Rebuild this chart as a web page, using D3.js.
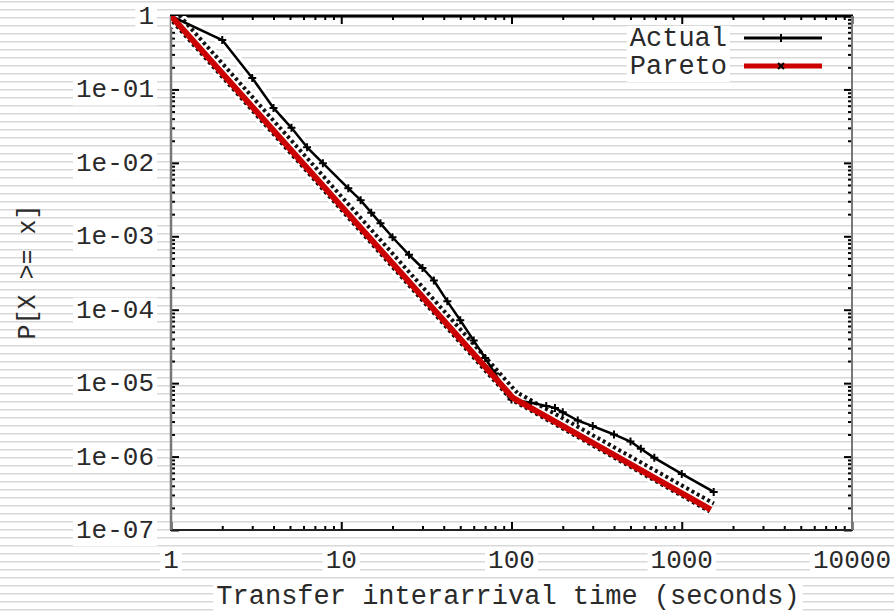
<!DOCTYPE html>
<html>
<head>
<meta charset="utf-8" />
<title>Transfer interarrival time CCDF</title>
<script src="https://d3js.org/d3.v7.min.js"></script>
<style>
  body { margin: 0; background: #fff; }
  text { font-family: "Liberation Mono", "DejaVu Sans Mono", monospace; fill: #2a2a2a; }
</style>
</head>
<body>
<script>
// data
var actualX = [1, 2, 3, 4, 5.1, 6.3, 7.8, 11, 13, 15, 17, 20, 25, 30, 35, 42, 50, 60, 70, 80, 95, 100, 130, 160, 180, 200, 245, 300, 400, 500, 575, 690, 1000, 1540];
var actualY = [1, 0.47, 0.143, 0.056, 0.03, 0.0163, 0.0099, 0.0045, 0.0031, 0.0021, 0.0015, 0.00097, 0.00056, 0.00037, 0.00025, 0.00013, 7.2e-5, 3.8e-5, 2.2e-5, 1.35e-5, 7.2e-6, 6e-6, 5.4e-6, 4.9e-6, 4.6e-6, 4.0e-6, 3.1e-6, 2.6e-6, 2.0e-6, 1.6e-6, 1.28e-6, 9.6e-7, 5.8e-7, 3.3e-7];
var paretoX = [1, 102, 1480];
var paretoY = [1, 6.3e-6, 1.9e-7];
var xTicks = [1, 10, 100, 1000, 10000];
var xTickLabels = ['1', '10', '100', '1000', '10000'];
var yTicks = [1, 1e-1, 1e-2, 1e-3, 1e-4, 1e-5, 1e-6, 1e-7];
var yTickLabels = ['1', '1e-01', '1e-02', '1e-03', '1e-04', '1e-05', '1e-06', '1e-07'];
var seriesNames = ['Actual', 'Pareto'];

var width = 894, height = 611;
var svg = d3.select('body').append('svg')
    .attr('width', width)
    .attr('height', height);

// scanline background
var defs = svg.append('defs');
var pat = defs.append('pattern')
    .attr('id', 'stripes')
    .attr('patternUnits', 'userSpaceOnUse')
    .attr('width', 8).attr('height', 8)
    .attr('y', 1);
pat.append('rect').attr('width', 8).attr('height', 8).attr('fill', '#fff');
pat.append('rect').attr('y', 0).attr('width', 8).attr('height', 1).attr('fill', '#d9d9d9');
pat.append('rect').attr('y', 1).attr('width', 8).attr('height', 1).attr('fill', '#ebebeb');
svg.append('rect').attr('width', width).attr('height', height).attr('fill', 'url(#stripes)');

var x = d3.scaleLog().domain([1, 10000]).range([171, 852]);
var y = d3.scaleLog().domain([1e-7, 1]).range([530, 16]);

function minorOf(lo, hi) {
    var out = [];
    for (var d = lo; d < hi; d *= 10)
        for (var k = 2; k <= 9; k++) out.push(d * k);
    return out;
}
var xMinor = minorOf(1, 10000);
var yMinor = minorOf(1e-7, 1);

function strip(g) { g.select('.domain').remove(); g.selectAll('line').attr('stroke', '#000').attr('stroke-width', 2); }

// ticks, all pointing inward, mirrored on all four sides
svg.append('g').attr('transform', 'translate(0,530)')
    .call(d3.axisBottom(x).tickValues(xMinor).tickSize(-4).tickFormat('')).call(strip);
svg.append('g').attr('transform', 'translate(0,530)')
    .call(d3.axisBottom(x).tickValues(xTicks).tickSize(-8).tickFormat('')).call(strip);
svg.append('g').attr('transform', 'translate(0,16)')
    .call(d3.axisTop(x).tickValues(xMinor).tickSize(-4).tickFormat('')).call(strip);
svg.append('g').attr('transform', 'translate(0,16)')
    .call(d3.axisTop(x).tickValues(xTicks).tickSize(-8).tickFormat('')).call(strip);
svg.append('g').attr('transform', 'translate(171,0)')
    .call(d3.axisLeft(y).tickValues(yMinor).tickSize(-4).tickFormat('')).call(strip);
svg.append('g').attr('transform', 'translate(171,0)')
    .call(d3.axisLeft(y).tickValues(yTicks).tickSize(-8).tickFormat('')).call(strip);
svg.append('g').attr('transform', 'translate(852,0)')
    .call(d3.axisRight(y).tickValues(yMinor).tickSize(-4).tickFormat('')).call(strip);
svg.append('g').attr('transform', 'translate(852,0)')
    .call(d3.axisRight(y).tickValues(yTicks).tickSize(-8).tickFormat('')).call(strip);

// frame
svg.append('line').attr('x1', 170).attr('x2', 853).attr('y1', 16).attr('y2', 16).attr('stroke', '#000').attr('stroke-width', 3);
svg.append('line').attr('x1', 170).attr('x2', 853).attr('y1', 530).attr('y2', 530).attr('stroke', '#222').attr('stroke-width', 2);
svg.append('line').attr('x1', 171).attr('x2', 171).attr('y1', 16).attr('y2', 530).attr('stroke', '#777').attr('stroke-width', 2.5);
svg.append('line').attr('x1', 852).attr('x2', 852).attr('y1', 16).attr('y2', 530).attr('stroke', '#777').attr('stroke-width', 2);

function label(g, tx, ty, str, anchor, size) {
    var t = g.append('text').attr('x', tx).attr('y', ty)
        .attr('text-anchor', anchor).attr('font-size', size || 26).text(str);
    var b = t.node().getBBox();
    g.insert('rect', 'text').attr('x', b.x - 3).attr('y', b.y + 2).attr('width', b.width + 6).attr('height', b.height - 2).attr('fill', '#fff');
    return t;
}

// tick labels
yTicks.forEach(function (v, i) {
    label(svg.append('g'), 154, y(v) + 8, yTickLabels[i], 'end');
});
xTicks.forEach(function (v, i) {
    label(svg.append('g'), x(v), 568, xTickLabels[i], 'middle');
});

// axis titles
label(svg.append('g'), 508, 604, 'Transfer interarrival time (seconds)', 'middle', 27);
var yl = svg.append('g').attr('transform', 'translate(35,272) rotate(-90)');
label(yl, 0, 0, 'P[X >= x]', 'middle', 25);
yl.select('rect').remove();

var clip = defs.append('clipPath').attr('id', 'plot');
clip.append('rect').attr('x', 171).attr('y', 16).attr('width', 681).attr('height', 514);

var line = d3.line().x(function (d) { return x(d[0]); }).y(function (d) { return y(d[1]); });
var actual = actualX.map(function (v, i) { return [v, actualY[i]]; });
var pareto = paretoX.map(function (v, i) { return [v, paretoY[i]]; });

var plot = svg.append('g').attr('clip-path', 'url(#plot)');

// white halos
plot.append('path').datum(actual).attr('d', line).attr('fill', 'none').attr('stroke', '#fff').attr('stroke-width', 9);
plot.append('path').datum(pareto).attr('d', line).attr('fill', 'none').attr('stroke', '#fff').attr('stroke-width', 18)
    .attr('transform', 'translate(1,-2)');

// dotted point band of the fit
plot.append('path').datum(pareto).attr('d', line).attr('fill', 'none')
    .attr('stroke', '#111').attr('stroke-width', 13).attr('stroke-dasharray', '3,3')
    .attr('transform', 'translate(1,-2)');
plot.append('path').datum(pareto).attr('d', line).attr('fill', 'none')
    .attr('stroke', '#fff').attr('stroke-width', 5)
    .attr('transform', 'translate(1,-2)');

// actual
plot.append('path').datum(actual).attr('d', line).attr('fill', 'none').attr('stroke', '#000').attr('stroke-width', 2.5)
    .attr('stroke-linejoin', 'round');
plot.selectAll('.pt').data(actual).enter().append('path')
    .attr('class', 'pt')
    .attr('transform', function (d) { return 'translate(' + x(d[0]) + ',' + y(d[1]) + ')'; })
    .attr('d', 'M-4,0H4M0,-4V4').attr('stroke', '#000').attr('stroke-width', 2);

// pareto
plot.append('path').datum(pareto).attr('d', line).attr('fill', 'none').attr('stroke', '#cc0000').attr('stroke-width', 6)
    .attr('stroke-linejoin', 'round');

// legend
var leg = svg.append('g');
seriesNames.forEach(function (n, i) {
    var ly = 38 + i * 28;
    label(leg, 727, ly + 8, n, 'end', 27);
    leg.append('line').attr('x1', 744).attr('x2', 822).attr('y1', ly).attr('y2', ly)
        .attr('stroke', i === 0 ? '#000' : '#cc0000').attr('stroke-width', i === 0 ? 3 : 5);
    leg.append('path').attr('transform', 'translate(781,' + ly + ')')
        .attr('d', i === 0 ? 'M-4,0H4M0,-4V4' : 'M-3,-3L3,3M-3,3L3,-3')
        .attr('stroke', '#000').attr('stroke-width', 2);
});
</script>
</body>
</html>
